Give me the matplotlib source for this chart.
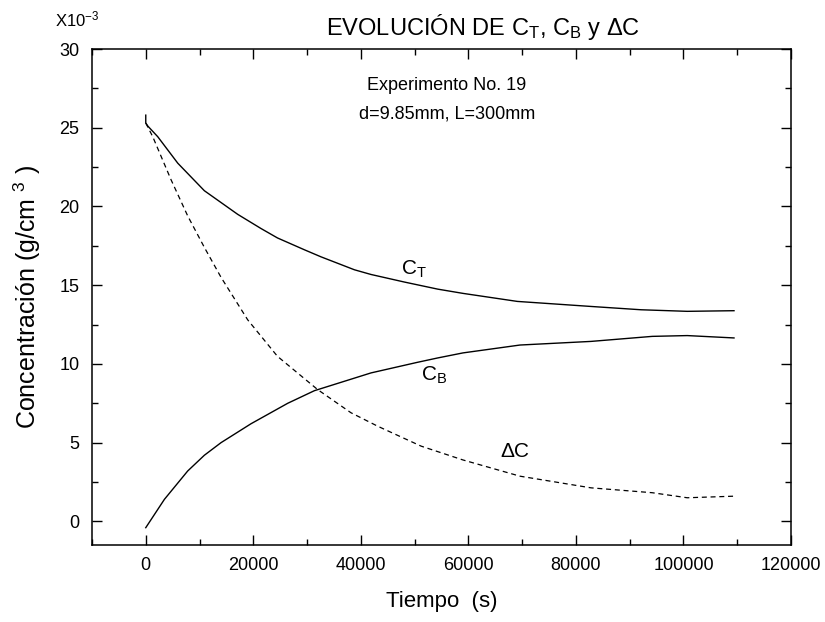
import matplotlib.pyplot as plt
from matplotlib.ticker import MultipleLocator

plt.rcParams["font.family"] = ["Liberation Sans", "DejaVu Sans"]
plt.rcParams["mathtext.fontset"] = "custom"
plt.rcParams["mathtext.rm"] = "Liberation Sans"
plt.rcParams["mathtext.it"] = "Liberation Sans:italic"

# values (concentration in 1e-3 g/cm3)
t_ct = [0, 0, 400, 2230, 5950, 10900, 17100, 21430, 24500, 29500, 32600,
        38800, 41900, 48100, 54300, 59000, 69100, 82800, 92100, 100700, 109400]
c_t = [25.8, 25.3, 25.1, 24.43, 22.75, 21.0, 19.5, 18.6, 18.0, 17.25, 16.8,
       15.98, 15.68, 15.2, 14.75, 14.48, 13.97, 13.65, 13.44, 13.34, 13.38]

t_cb = [0, 3470, 7800, 10900, 14000, 19570, 26400, 31360, 41900, 50500,
        54300, 59000, 69600, 82800, 94200, 100700, 109400]
c_b = [-0.4, 1.4, 3.2, 4.2, 5.0, 6.2, 7.5, 8.3, 9.43, 10.1, 10.38, 10.7,
       11.2, 11.43, 11.75, 11.8, 11.65]

t_dc = [0, 1300, 4700, 7800, 10900, 14000, 18960, 24500, 31970, 38160, 43100,
        51200, 59000, 69600, 82800, 94200, 100700, 109400]
d_c = [25.3, 24.43, 21.7, 19.4, 17.4, 15.5, 12.8, 10.48, 8.37, 6.9, 6.05,
       4.78, 3.9, 2.87, 2.13, 1.82, 1.5, 1.6]

fig = plt.figure(figsize=(8.25, 6.22), dpi=100)
ax = fig.add_axes([0.1115, 0.1238, 0.8473, 0.7974])

ax.plot(t_ct, c_t, color="black", lw=1.0)
ax.plot(t_cb, c_b, color="black", lw=1.0)
ax.plot(t_dc, d_c, color="black", lw=0.9, linestyle=(0, (4, 3)))

ax.set_xlim(-10000, 120000)
ax.set_ylim(-1.5, 30)
ax.xaxis.set_major_locator(MultipleLocator(20000))
ax.xaxis.set_minor_locator(MultipleLocator(10000))
ax.yaxis.set_major_locator(MultipleLocator(5))
ax.yaxis.set_minor_locator(MultipleLocator(2.5))
ax.tick_params(which="both", direction="in", top=True, right=True,
               labelsize=13, width=1)
ax.tick_params(which="major", length=7, pad=9)
ax.tick_params(which="minor", length=4)
ax.set_xticks([0, 20000, 40000, 60000, 80000, 100000, 120000])
for s in ax.spines.values():
    s.set_linewidth(1.1)

ax.set_xlabel("Tiempo  (s)", fontsize=16, labelpad=12)
ax.set_ylabel("Concentración (g/cm $^{\\mathregular{3}}$ )", fontsize=18, labelpad=12)

ax.text(56000, 27.7, "Experimento No. 19", fontsize=13, ha="center", va="center")
ax.text(56000, 25.9, "d=9.85mm, L=300mm", fontsize=13, ha="center", va="center")

ax.text(47400, 16.0, "C$_{\\mathregular{T}}$", fontsize=15, ha="left", va="center")
ax.text(51100, 9.3, "C$_{\\mathregular{B}}$", fontsize=15, ha="left", va="center")
ax.text(66000, 4.45, "ΔC", fontsize=15, ha="left", va="center")

fig.text(0.585, 0.957, "EVOLUCIÓN DE C$_{\\mathregular{T}}$, C$_{\\mathregular{B}}$ y ΔC",
         fontsize=17, ha="center", va="center")
fig.text(0.067, 0.968, "X10$^{\\mathregular{-3}}$", fontsize=12, ha="left", va="center")

fig.savefig("out.png", dpi=100)
